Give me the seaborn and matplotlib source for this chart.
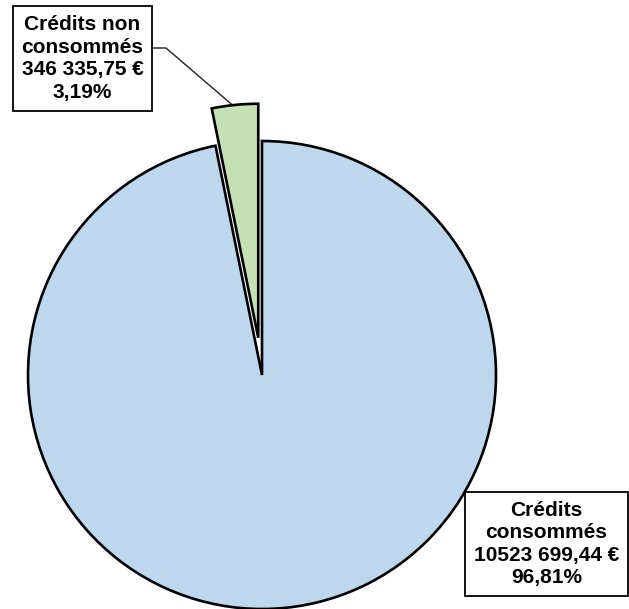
import numpy as np
import matplotlib
matplotlib.use("Agg")
import matplotlib.pyplot as plt
import seaborn as sns

# Données
libelles = ["Crédits consommés", "Crédits non consommés"]
montants = [10523699.44, 346335.75]
montants_txt = ["10523 699,44 €", "346 335,75 €"]
pourcentages_txt = ["96,81%", "3,19%"]
couleurs = ["#BDD7EE", "#C5E0B4"]
eclatement = [0.0, 0.16]

sns.set_style("white")
plt.rcParams['font.family'] = ['Liberation Sans', 'DejaVu Sans']

W, H = 629, 609
fig = plt.figure(figsize=(W / 100, H / 100), dpi=100)
ax = fig.add_axes([0, 0, 1, 1])
ax.set_xlim(0, W)
ax.set_ylim(0, H)
ax.set_axis_off()

centre = (262, H - 375)
rayon = 234

# matplotlib décale en unités de données -> on multiplie par le rayon
wedges, _ = ax.pie(montants, colors=couleurs, explode=[e * rayon for e in eclatement],
                   startangle=90, counterclock=False, center=centre, radius=rayon,
                   wedgeprops={'edgecolor': 'black', 'linewidth': 1.9})
ax.set_xlim(0, W)
ax.set_ylim(0, H)
ax.set_aspect('equal')

boite = dict(boxstyle='square,pad=0.42', facecolor='white', edgecolor='black', linewidth=1.3)
style = dict(fontsize=15, fontweight='bold', ha='center', va='center',
             linespacing=1.24, color='black')

# étiquette crédits non consommés
ax.text(82.5, H - 58.5, "Crédits non\nconsommés\n" + montants_txt[1] + "\n" + pourcentages_txt[1],
        bbox=boite, **style)
# étiquette crédits consommés
ax.text(546.5, H - 544, "Crédits\nconsommés\n" + montants_txt[0] + "\n" + pourcentages_txt[0],
        bbox=boite, **style)

# ligne de rappel vers la part non consommée
w = wedges[1]
ang = np.deg2rad(96.3)
px = w.center[0] + w.r * np.cos(ang)
py = w.center[1] + w.r * np.sin(ang)
ax.plot([153, 166, px], [H - 48, H - 48, py], color='#222222', linewidth=1.0, zorder=0.5)

fig.savefig("out.png", dpi=100)
